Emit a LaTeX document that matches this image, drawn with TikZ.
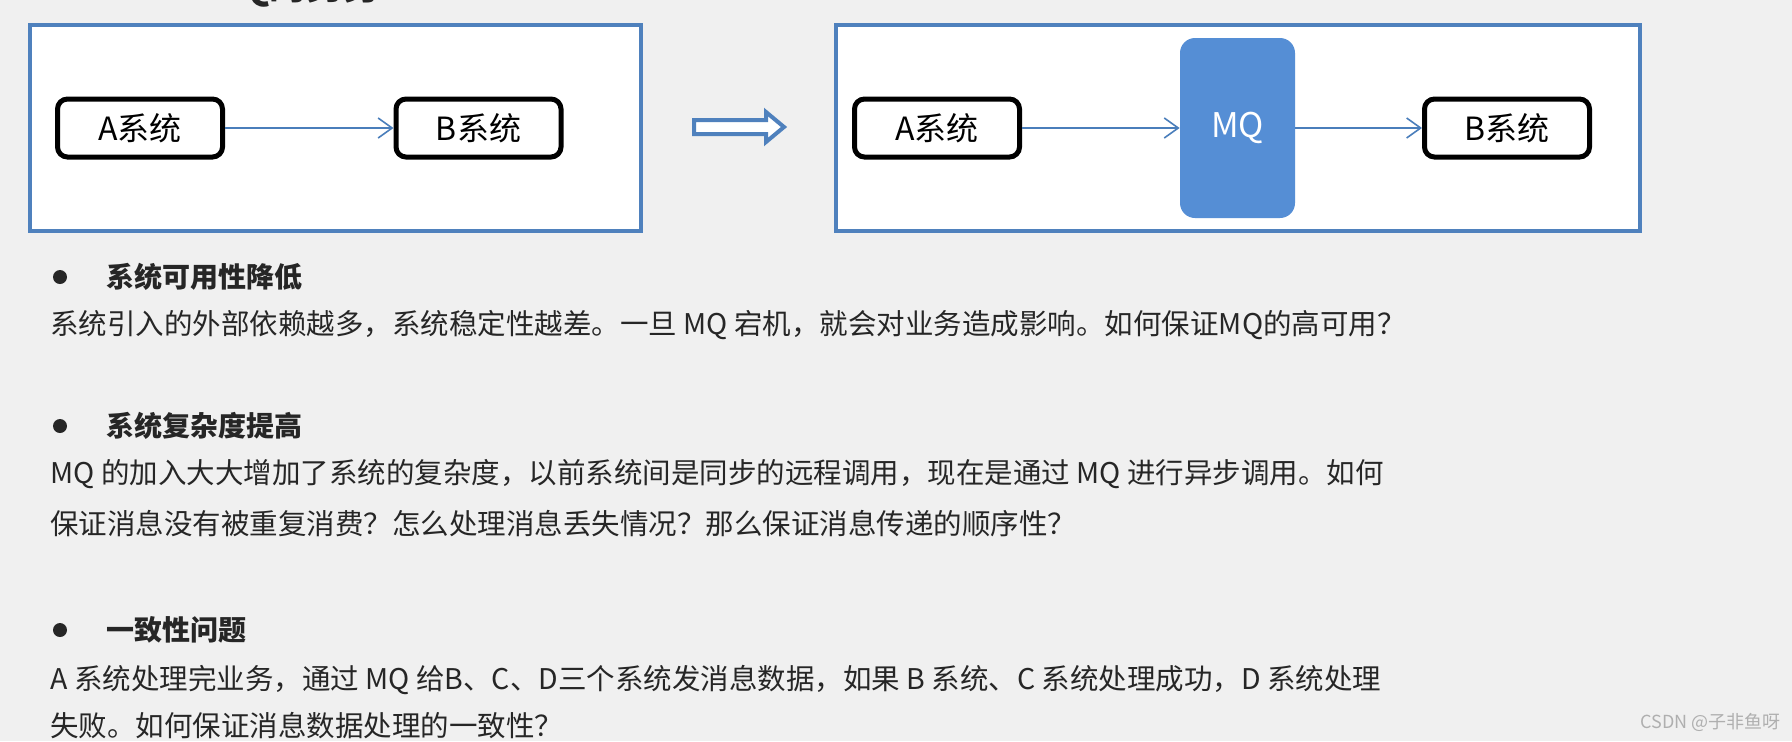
\documentclass[tikz,border=0pt]{standalone}
\usepackage{fontspec}
\setmainfont{Noto Sans CJK SC}
\usetikzlibrary{arrows.meta}
\definecolor{bg}{RGB}{240,240,240}
\definecolor{frameblue}{RGB}{79,129,189}
\definecolor{lineblue}{RGB}{74,126,187}
\definecolor{mqblue}{RGB}{85,142,213}
\definecolor{textgray}{RGB}{38,38,38}
\definecolor{wmgray}{RGB}{175,175,175}
\tikzset{
  frame/.style={draw=frameblue, line width=2pt, fill=white, inner sep=0pt},
  sysbox/.style={draw=black, line width=2.5pt, rounded corners=5pt, fill=white,
    minimum width=82.5pt, minimum height=29pt, inner sep=0pt,
    font=\fontsize{16}{19}\selectfont},
  mqbox/.style={fill=mqblue, rounded corners=7.5pt, minimum width=57.5pt,
    minimum height=90pt, inner sep=0pt, text=white,
    font=\fontsize{17}{20}\selectfont},
  flow/.style={draw=lineblue, line width=0.8pt,
    -{Straight Barb[length=7pt,width=10pt,line width=0.8pt]}},
  body/.style={anchor=west, inner sep=0pt, text=textgray,
    font=\fontsize{14.25}{17}\selectfont},
  head/.style={anchor=west, inner sep=0pt, text=textgray,
    font=\fontsize{14}{17}\selectfont\bfseries},
  bulletdot/.style={circle, fill=textgray, minimum size=7pt, inner sep=0pt},
}
\begin{document}
\begin{tikzpicture}[x=0.5pt,y=-0.5pt]
\useasboundingbox (0,0) rectangle (1792,741);
\fill[bg] (0,0) rectangle (1792,741);

% title, cut off at the top edge as in the reference
\begin{scope}
\clip (0,0) rectangle (1792,741);
\node[anchor=base west, inner sep=0pt, text=textgray,
  font=\fontsize{18.5}{22}\selectfont\bfseries] (title) at (208,-1) {MQ的劣势};
\end{scope}

% left frame
\node[frame, minimum width=305.5pt, minimum height=103pt] (leftframe) at (335.5,128) {};
\node[sysbox] (a1) at (140,128) {A系统};
\node[sysbox] (b1) at (478.5,128) {B系统};
\draw[flow] (a1) -- (b1);

% hollow block arrow
\draw[draw=frameblue, line width=2pt, fill=white, line join=miter]
  (694,120) -- (766,120) -- (766,112) -- (784,127) -- (766,142) -- (766,134) -- (694,134) -- cycle;

% right frame
\node[frame, minimum width=402pt, minimum height=103pt] (rightframe) at (1238,128) {};
\node[sysbox] (a2) at (937,128) {A系统};
\node[mqbox] (mq) at (1237.5,128) {MQ};
\node[sysbox] (b2) at (1507,128) {B系统};
\draw[flow] (a2) -- (mq);
\draw[flow] (mq) -- (b2);

% section 1
\node[bulletdot] (d1) at (60,277) {};
\node[head] (h1) at (106,277) {系统可用性降低};
\node[body] (l1) at (50,325) {系统引入的外部依赖越多，系统稳定性越差。一旦 MQ 宕机，就会对业务造成影响。如何保证MQ的高可用？};

% section 2
\node[bulletdot] (d2) at (60,426) {};
\node[head] (h2) at (106,426) {系统复杂度提高};
\node[body] (l2a) at (50,474) {MQ 的加入大大增加了系统的复杂度，以前系统间是同步的远程调用，现在是通过 MQ 进行异步调用。如何};
\node[body] (l2b) at (50,524) {保证消息没有被重复消费？怎么处理消息丢失情况？那么保证消息传递的顺序性？};

% section 3
\node[bulletdot] (d3) at (60,630) {};
\node[head] (h3) at (106,630) {一致性问题};
\node[body] (l3a) at (50,680) {A 系统处理完业务，通过 MQ 给B、C、D三个系统发消息数据，如果 B 系统、C 系统处理成功，D 系统处理};
\node[body] (l3b) at (50,726) {失败。如何保证消息数据处理的一致性？};

% watermark
\node[anchor=west, inner sep=0pt, text=wmgray, font=\fontsize{9}{11}\selectfont] (wm) at (1640,722) {CSDN @子非鱼呀};
\end{tikzpicture}
\end{document}
